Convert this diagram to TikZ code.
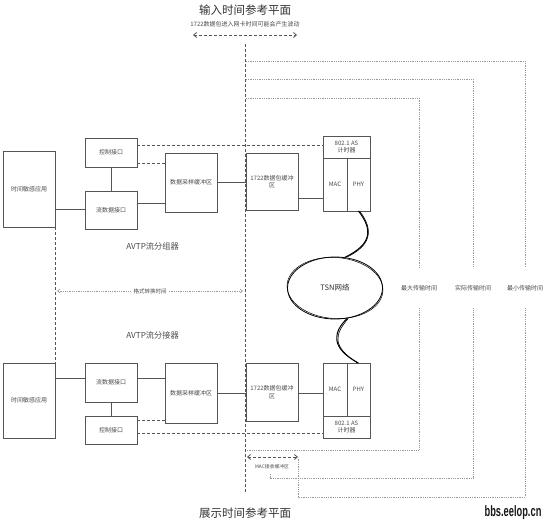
\documentclass[tikz,border=0pt]{standalone}
\usepackage{fontspec}
\setmainfont{Noto Sans CJK SC}
\newfontfamily\wmfont{Liberation Sans}
\usetikzlibrary{arrows.meta,shapes.geometric}
\definecolor{boxc}{HTML}{555555}
\definecolor{txtc}{HTML}{4A4A4A}
\definecolor{dotc}{HTML}{999999}
\begin{document}
\begin{tikzpicture}[x=1pt,y=-1pt,
  box/.style={draw=boxc, line width=0.6pt, inner sep=1pt, outer sep=0pt,
    font=\fontsize{6}{7.5}\selectfont, text=txtc, align=center},
  ln/.style={draw=boxc, line width=0.6pt},
  dsh/.style={draw=boxc, line width=0.8pt, dash pattern=on 3pt off 2pt},
  dotl/.style={draw=dotc, line width=0.6pt, dash pattern=on 0.8pt off 1pt},
  lbl/.style={font=\fontsize{6}{7}\selectfont, text=txtc, inner sep=0pt},
  vlbl/.style={font=\fontsize{6}{7}\selectfont, text=txtc, inner sep=0pt, minimum height=40pt},
  title/.style={font=\fontsize{11.5}{13}\selectfont, text=black!80},
  wave/.style={draw=black, line width=1pt},
  barb/.style={{Straight Barb[length=3pt,width=5pt]}-{Straight Barb[length=3pt,width=5pt]}},
]
\useasboundingbox (0,0) rectangle (554,525);
\fill[white] (0,0) rectangle (554,525);

% titles
\node[title] (ttop) at (245,10) {输入时间参考平面};
\node[lbl] (tsub) at (245,24) {1722数据包进入网卡时间可能会产生波动};
\coordinate (ja) at (193,35);
\coordinate (jb) at (297,35);
\draw[dsh, barb] (ja) -- (jb);
\node[title] (tbot) at (245,513) {展示时间参考平面};

% reference plane
\coordinate (reftop) at (245,44);
\coordinate (refbot) at (245,493);
\draw[dsh] (reftop) -- (refbot);

% ---------- upper part ----------
\node[box, minimum width=52pt, minimum height=76pt] (app1) at (29,189) {时间敏感应用};
\node[box, minimum width=52pt, minimum height=29pt] (ctl1) at (111,152.5) {控制接口};
\node[box, minimum width=52pt, minimum height=38pt] (sdi1) at (111,210) {流数据接口};
\node[box, minimum width=52pt, minimum height=59pt] (buf1) at (191,182.5) {数据采样缓冲区};
\node[box, minimum width=52pt, minimum height=57pt] (pk1) at (272,181.5) {1722数据包缓冲\\区};
\node[box, minimum width=47pt, minimum height=22pt] (as1) at (346.5,147) {802.1 AS\\计时器};
\node[box, minimum width=24pt, minimum height=53pt] (mac1) at (335,184.5) {MAC};
\node[box, minimum width=23pt, minimum height=53pt] (phy1) at (358.5,184.5) {PHY};

\draw[ln] (app1.east |- 0,209) -- (sdi1.west |- 0,209);
\draw[ln] (ctl1) -- (sdi1);
\draw[ln] (sdi1.east |- 0,203) -- (buf1.west |- 0,203);
\draw[ln] (buf1.east |- 0,182) -- (pk1.west |- 0,182);
\draw[ln] (pk1.east |- 0,198) -- (mac1.west |- 0,198);
\draw[dsh] (ctl1.east |- 0,145) -- (as1.west |- 0,145);
\draw[dsh] (ctl1.east |- 0,163) -- (buf1.west |- 0,163);

\node[font=\fontsize{8.2}{9}\selectfont, text=txtc] (avtp1) at (152.5,246) {AVTP流分组器};

% ---------- lower part ----------
\node[box, minimum width=52pt, minimum height=75pt] (app2) at (29,400.5) {时间敏感应用};
\node[box, minimum width=52pt, minimum height=39pt] (sdi2) at (111,382.5) {流数据接口};
\node[box, minimum width=52pt, minimum height=28pt] (ctl2) at (111,430) {控制接口};
\node[box, minimum width=52pt, minimum height=60pt] (buf2) at (191,393) {数据采样缓冲区};
\node[box, minimum width=52pt, minimum height=58pt] (pk2) at (272,392) {1722数据包缓冲\\区};
\node[box, minimum width=24pt, minimum height=53pt] (mac2) at (335,389.5) {MAC};
\node[box, minimum width=23pt, minimum height=53pt] (phy2) at (358.5,389.5) {PHY};
\node[box, minimum width=47pt, minimum height=22pt] (as2) at (346.5,427) {802.1 AS\\计时器};

\draw[ln] (app2.east |- 0,378) -- (sdi2.west |- 0,378);
\draw[ln] (sdi2) -- (ctl2);
\draw[ln] (sdi2.east |- 0,378) -- (buf2.west |- 0,378);
\draw[ln] (buf2.east |- 0,393) -- (pk2.west |- 0,393);
\draw[ln] (pk2.east |- 0,393) -- (mac2.west |- 0,393);
\draw[dsh] (ctl2.east |- 0,420) -- (buf2.west |- 0,420);
\draw[dsh] (ctl2.east |- 0,433) -- (as2.west |- 0,433);

\node[font=\fontsize{8.2}{9}\selectfont, text=txtc] (avtp2) at (152.5,335) {AVTP流分接器};

% format conversion
\draw[dsh] (app1.south east) -- (app2.north east);
\node[lbl, fill=white, inner xsep=2pt, font=\fontsize{5.5}{6}\selectfont] (fmt) at (150,291) {格式转换时间};
\coordinate (fa) at (57,291);
\coordinate (fb) at (243,291);
\draw[dotl, {Straight Barb[length=2.5pt,width=4pt]}-] (fa) -- (fmt.west);
\draw[dotl, -{Straight Barb[length=2.5pt,width=4pt]}] (fmt.east) -- (fb);

% TSN network
\node[draw=black, ellipse, line width=0.8pt, minimum width=95pt, minimum height=62pt,
      font=\fontsize{7.5}{8}\selectfont, text=black!80] (tsn) at (335,288) {TSN网络};
\draw[black, line width=0.5pt, rotate around={-4:(tsn.center)}] (tsn.center) ellipse (48pt and 30.5pt);

\draw[wave] (phy1.south) .. controls (373,230) and (372,244) .. (tsn.72);
\draw[wave, line width=0.6pt] ([xshift=1pt]phy1.south) .. controls (375,231) and (370,246) .. ([xshift=1.5pt]tsn.72);
\draw[wave] (tsn.-68) .. controls (333,332) and (330,348) .. (phy2.north);
\draw[wave, line width=0.6pt] ([xshift=1pt]tsn.-68) .. controls (335,334) and (331,346) .. ([xshift=-1pt]phy2.north);

% transmission times
\node[vlbl] (maxt) at (419,288) {最大传输时间};
\node[vlbl] (actt) at (473,288) {实际传输时间};
\node[vlbl] (mint) at (525,288) {最小传输时间};
\coordinate (m1) at (246,98);
\coordinate (m2) at (246,450);
\coordinate (a1) at (246,79);
\coordinate (a2) at (270,478);
\coordinate (a3) at (270,473);
\coordinate (n1) at (246,61);
\coordinate (n2) at (298,497);
\coordinate (n3) at (298,459);
\draw[dotl] (m1) -| (maxt.north);
\draw[dotl] (maxt.south) |- (m2);
\draw[dotl] (a1) -| (actt.north);
\draw[dotl] (actt.south) |- (a2) -- (a3);
\draw[dotl] (n1) -| (mint.north);
\draw[dotl] (mint.south) |- (n2) -- (n3);

% MAC receive buffer
\coordinate (ra) at (247,457);
\coordinate (rb) at (298,457);
\draw[dsh, barb] (ra) -- (rb);
\node[lbl, font=\fontsize{4.8}{5}\selectfont] (macbuf) at (272,467) {MAC接收缓冲区};

% watermark
\node[font=\wmfont\bfseries\fontsize{15}{16}\selectfont, text=black!90, inner sep=0pt] (wm) at (513,513) {\scalebox{0.62}[1]{bbs.eelop.cn}};
\end{tikzpicture}
\end{document}
